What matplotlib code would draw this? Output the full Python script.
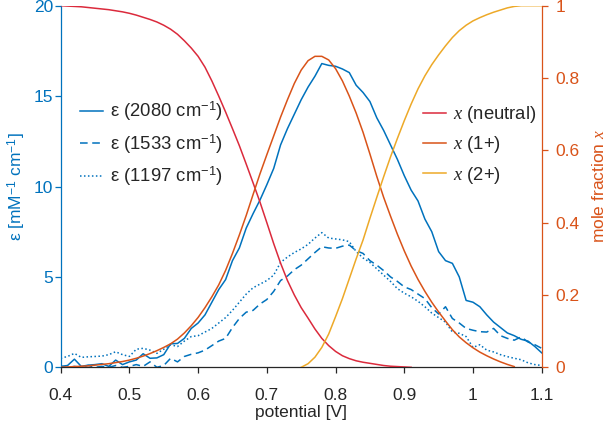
import numpy as np
import matplotlib
matplotlib.use('Agg')
import matplotlib.pyplot as plt

plt.rcParams['font.family'] = ['Liberation Sans', 'DejaVu Sans']
plt.rcParams['mathtext.fontset'] = 'custom'
plt.rcParams['mathtext.it'] = 'Liberation Serif:italic'
plt.rcParams['mathtext.rm'] = 'Liberation Sans'

# ---------------- data ----------------
potential = np.round(np.arange(0.40, 1.1001, 0.01), 2)

eps_2080 = [0.05, 0.10, 0.45, 0.05, 0.12, 0.15, 0.20, 0.05, 0.40, 0.15,
            0.30, 0.40, 0.75, 0.50, 0.52, 0.70, 1.30, 1.32, 1.60, 2.15,
            2.45, 2.90, 3.60, 4.30, 4.85, 5.90, 6.60, 7.70, 8.50, 9.25,
            10.10, 11.00, 12.30, 13.20, 14.00, 14.80, 15.50, 16.10, 16.80, 16.70,
            16.65, 16.50, 16.30, 15.60, 15.20, 14.70, 13.80, 13.10, 12.30, 11.50,
            10.60, 9.80, 9.20, 8.20, 7.50, 6.40, 5.90, 5.75, 5.00, 3.70,
            3.60, 3.35, 2.90, 2.50, 2.20, 1.90, 1.75, 1.55, 1.45, 1.15,
            0.80]

eps_1533 = [0.05, 0.00, 0.05, 0.00, 0.10, 0.00, 0.05, 0.00, 0.10, 0.00,
            0.05, 0.15, 0.05, 0.30, 0.00, 0.10, 0.50, 0.30, 0.60, 0.72,
            0.80, 0.95, 1.20, 1.45, 1.60, 2.20, 2.70, 3.05, 3.15, 3.50,
            3.75, 4.20, 4.80, 5.05, 5.40, 5.65, 6.00, 6.35, 6.67, 6.60,
            6.58, 6.70, 6.76, 6.45, 6.30, 5.90, 5.65, 5.35, 5.00, 4.75,
            4.45, 4.30, 4.05, 3.80, 3.30, 2.95, 3.35, 2.70, 2.45, 2.15,
            2.05, 1.97, 1.95, 2.15, 1.75, 1.60, 1.50, 1.68, 1.40, 1.25,
            1.05]

eps_1197 = [0.50, 0.60, 0.77, 0.55, 0.58, 0.60, 0.62, 0.70, 0.86, 0.70,
            0.60, 1.00, 1.05, 0.95, 0.77, 1.00, 1.25, 1.15, 1.45, 1.70,
            1.75, 1.95, 2.15, 2.45, 2.75, 3.15, 3.60, 4.05, 4.40, 4.60,
            4.80, 5.10, 5.80, 6.10, 6.35, 6.55, 6.80, 7.15, 7.45, 7.15,
            7.10, 7.05, 6.95, 6.40, 6.05, 5.80, 5.45, 5.10, 4.75, 4.35,
            4.10, 3.90, 3.65, 3.35, 3.00, 2.75, 2.50, 1.95, 1.88, 1.70,
            1.10, 1.25, 0.95, 0.85, 0.70, 0.59, 0.50, 0.42, 0.25, 0.15,
            0.10]

nan = np.nan
frac_neutral = [1.000, 0.999, 0.998, 0.997, 0.995, 0.993, 0.991, 0.989, 0.986, 0.983,
                0.979, 0.974, 0.968, 0.962, 0.955, 0.946, 0.935, 0.921, 0.903, 0.883,
                0.860, 0.830, 0.792, 0.750, 0.706, 0.660, 0.613, 0.562, 0.510, 0.457,
                0.400, 0.342, 0.288, 0.240, 0.200, 0.165, 0.136, 0.106, 0.080, 0.060,
                0.044, 0.032, 0.024, 0.018, 0.014, 0.011, 0.008, 0.005, 0.003, 0.002,
                0.001, 0.000, nan, nan, nan, nan, nan, nan, nan, nan,
                nan, nan, nan, nan, nan, nan, nan, nan, nan, nan,
                nan]

frac_1plus = [0.000, 0.001, 0.002, 0.003, 0.004, 0.006, 0.008, 0.010, 0.013, 0.016,
              0.020, 0.025, 0.031, 0.038, 0.046, 0.055, 0.065, 0.078, 0.095, 0.115,
              0.138, 0.165, 0.195, 0.228, 0.268, 0.315, 0.366, 0.420, 0.478, 0.535,
              0.588, 0.640, 0.692, 0.740, 0.785, 0.822, 0.848, 0.860, 0.860, 0.850,
              0.826, 0.792, 0.750, 0.703, 0.650, 0.590, 0.528, 0.470, 0.418, 0.368,
              0.322, 0.280, 0.243, 0.210, 0.180, 0.153, 0.128, 0.104, 0.084, 0.068,
              0.054, 0.042, 0.032, 0.023, 0.015, 0.008, 0.002, nan, nan, nan,
              nan]

frac_2plus = [nan, nan, nan, nan, nan, nan, nan, nan, nan, nan,
              nan, nan, nan, nan, nan, nan, nan, nan, nan, nan,
              nan, nan, nan, nan, nan, nan, nan, nan, nan, nan,
              nan, nan, nan, nan, nan, 0.000, 0.010, 0.028, 0.055, 0.092,
              0.140, 0.190, 0.245, 0.300, 0.352, 0.412, 0.470, 0.527, 0.582, 0.633,
              0.682, 0.728, 0.770, 0.806, 0.837, 0.864, 0.889, 0.912, 0.931, 0.946,
              0.958, 0.967, 0.975, 0.982, 0.988, 0.994, 0.998, 1.000, 1.000, 1.000,
              1.000]

x_ticks = [0.4, 0.5, 0.6, 0.7, 0.8, 0.9, 1.0, 1.1]
x_ticklabels = ['0.4', '0.5', '0.6', '0.7', '0.8', '0.9', '1', '1.1']
eps_ticks = [0, 5, 10, 15, 20]
frac_ticks = [0, 0.2, 0.4, 0.6, 0.8, 1.0]
frac_ticklabels = ['0', '0.2', '0.4', '0.6', '0.8', '1']

eps_labels = ['ε (2080 cm$^{-1}$)', 'ε (1533 cm$^{-1}$)', 'ε (1197 cm$^{-1}$)']
frac_labels = [r'$x$ (neutral)', r'$x$ (1+)', r'$x$ (2+)']

# ---------------- style ----------------
blue = '#0072BD'
orange = '#D95319'
yellow = '#EDA928'
red = '#DB2A3C'
dark = '#262626'
fs = 12.5
lfs = 13.3

fig = plt.figure(figsize=(6.16, 4.29), dpi=100)
ax = fig.add_axes([0.0985, 0.1438, 0.7809, 0.8429])
ax2 = ax.twinx()

lw = 1.1
l1, = ax.plot(potential, eps_2080, color=blue, lw=lw, label=eps_labels[0])
l2, = ax.plot(potential, eps_1533, color=blue, lw=lw, ls=(0, (5, 3)), label=eps_labels[1])
l3, = ax.plot(potential, eps_1197, color=blue, lw=lw, ls=(0, (1, 1.6)), label=eps_labels[2])

m1, = ax2.plot(potential, frac_neutral, color=red, lw=lw, label=frac_labels[0])
m2, = ax2.plot(potential, frac_1plus, color=orange, lw=lw, label=frac_labels[1])
m3, = ax2.plot(potential, frac_2plus, color=yellow, lw=lw, label=frac_labels[2])

ax.set_xlim(0.4, 1.1)
ax.set_ylim(0, 20)
ax2.set_ylim(0, 1)

ax.set_xticks(x_ticks)
ax.set_xticklabels(x_ticklabels)
ax.set_yticks(eps_ticks)
ax2.set_yticks(frac_ticks)
ax2.set_yticklabels(frac_ticklabels)

for a in (ax, ax2):
    a.spines['top'].set_visible(False)
ax.spines['right'].set_visible(False)
ax2.spines['left'].set_visible(False)
ax2.spines['bottom'].set_visible(False)
ax.spines['left'].set_color(blue)
ax.spines['bottom'].set_color(dark)
ax2.spines['right'].set_color(orange)
for s in ('left', 'bottom'):
    ax.spines[s].set_linewidth(0.9)
ax2.spines['right'].set_linewidth(0.9)

ax.tick_params(axis='x', colors=dark, labelsize=fs, length=4.5, width=0.9, pad=10.5)
ax.tick_params(axis='y', colors=blue, labelsize=fs, length=4.5, width=0.9, pad=1.0)
ax2.tick_params(axis='y', colors=orange, labelsize=fs, length=4.5, width=0.9, pad=5.5)

ax.set_xlabel('potential [V]', fontsize=fs, color=dark, labelpad=1)
ax.set_ylabel('ε [mM$^{-1}$ cm$^{-1}$]', fontsize=fs, color=blue, labelpad=4)
ax2.set_ylabel('mole fraction $x$', fontsize=fs, color=orange, labelpad=8)

leg1 = ax.legend(handles=[l1, l2, l3], loc='center left', bbox_to_anchor=(0.040, 0.6175),
                 frameon=False, fontsize=lfs, handlelength=1.25, handletextpad=0.4,
                 labelspacing=0.5, borderpad=0, borderaxespad=0)
leg2 = ax2.legend(handles=[m1, m2, m3], loc='center left', bbox_to_anchor=(0.753, 0.615),
                  frameon=False, fontsize=lfs, handlelength=1.25, handletextpad=0.4,
                  labelspacing=0.5, borderpad=0, borderaxespad=0)
for t in leg1.get_texts():
    t.set_color(dark)
for t in leg2.get_texts():
    t.set_color(dark)

fig.savefig('out.png', dpi=100)
